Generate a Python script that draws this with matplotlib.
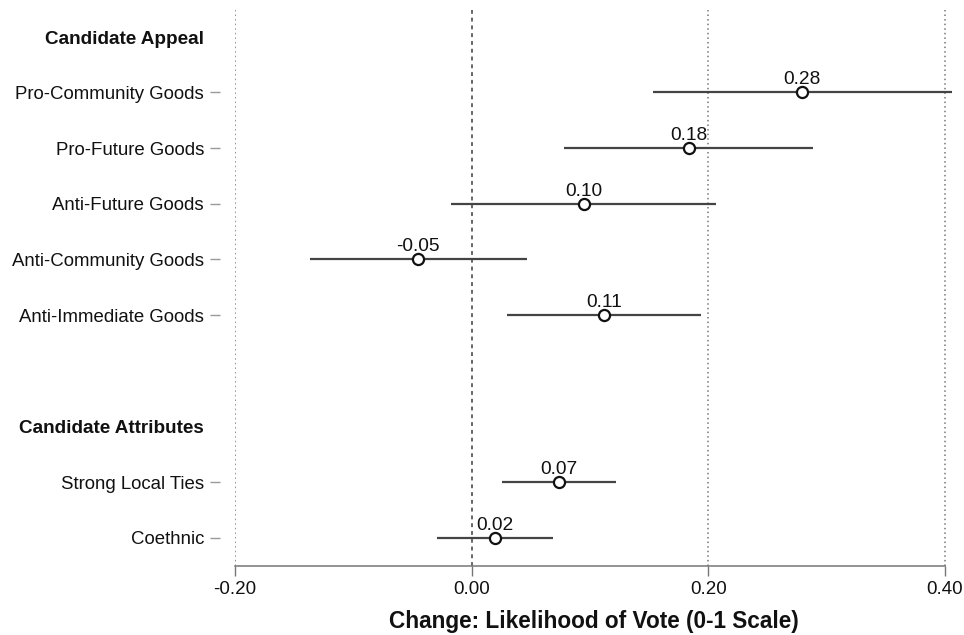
import matplotlib
matplotlib.use("Agg")
import matplotlib.pyplot as plt
import matplotlib.transforms as mtransforms

plt.rcParams['font.family'] = ['Liberation Sans', 'DejaVu Sans']

# Data
labels = ["Pro-Community Goods", "Pro-Future Goods", "Anti-Future Goods",
          "Anti-Community Goods", "Anti-Immediate Goods",
          "Strong Local Ties", "Coethnic"]
estimates = [0.279, 0.184, 0.095, -0.045, 0.112, 0.074, 0.020]
ci_low = [0.153, 0.078, -0.017, -0.137, 0.030, 0.026, -0.029]
ci_high = [0.406, 0.289, 0.207, 0.047, 0.194, 0.122, 0.069]
value_text = ["0.28", "0.18", "0.10", "-0.05", "0.11", "0.07", "0.02"]
rows = [1, 2, 3, 4, 5, 8, 9]
headers = ["Candidate Appeal", "Candidate Attributes"]
header_rows = [0.05, 7.04]
xticks = [-0.20, 0.00, 0.20, 0.40]
xticklabels = ["-0.20", "0.00", "0.20", "0.40"]

fig = plt.figure(figsize=(9.64, 6.35), dpi=100)
ax_w_px = 953 - 235
ax = fig.add_axes([235/964, 69.3/635, ax_w_px/964, (565.7-10)/635])

# reference lines
for xv in [-0.2, 0.2, 0.4]:
    ax.axvline(xv, color='#777777', linestyle=(0, (1, 2)), linewidth=1.1, zorder=0)
ax.axvline(0, color='#666666', linestyle=(0, (2, 2)), linewidth=1.4, zorder=0)

for y, e, lo, hi, t in zip(rows, estimates, ci_low, ci_high, value_text):
    ax.plot([lo, hi], [y, y], color='#444444', linewidth=1.6, zorder=2, clip_on=False,
            solid_capstyle='butt')
    ax.plot([e], [y], marker='o', markersize=8, markerfacecolor='white',
            markeredgecolor='#111111', markeredgewidth=1.6, zorder=3, linestyle='none')
    ax.annotate(t, (e, y), xytext=(0, 3), textcoords='offset points',
                ha='center', va='bottom', fontsize=13.8, color='#111111')

ax.set_xlim(-0.2, 0.407)
ax.set_ylim(9.5, -0.48)

ax.set_yticks(rows)
ax.set_yticklabels(labels)
ax.tick_params(axis='y', length=7.2, width=1, color='#999999', pad=4.3,
               labelsize=13.4, labelcolor='#111111')

trans = mtransforms.blended_transform_factory(ax.transAxes, ax.transData)
for h, r in zip(headers, header_rows):
    ax.text(-(235 - 204) / ax_w_px, r, h, transform=trans, ha='right', va='center',
            fontsize=13.6, fontweight='bold', color='#111111')

ax.set_xticks(xticks)
ax.set_xticklabels(xticklabels)
ax.tick_params(axis='x', length=7, width=1, color='#777777', pad=4,
               labelsize=13.5, labelcolor='#111111')
ax.set_xlabel("Change: Likelihood of Vote (0-1 Scale)", fontsize=16.3, fontweight='bold',
              color='#111111', labelpad=8.5)

ax.spines['top'].set_visible(False)
ax.spines['right'].set_visible(False)
ax.spines['left'].set_position(('outward', 10.8))
ax.spines['left'].set_visible(False)
ax.spines['bottom'].set_bounds(-0.2, 0.4)
ax.spines['bottom'].set_color('#777777')
ax.spines['bottom'].set_linewidth(1.1)

fig.savefig("out.png", dpi=100, facecolor='white')
